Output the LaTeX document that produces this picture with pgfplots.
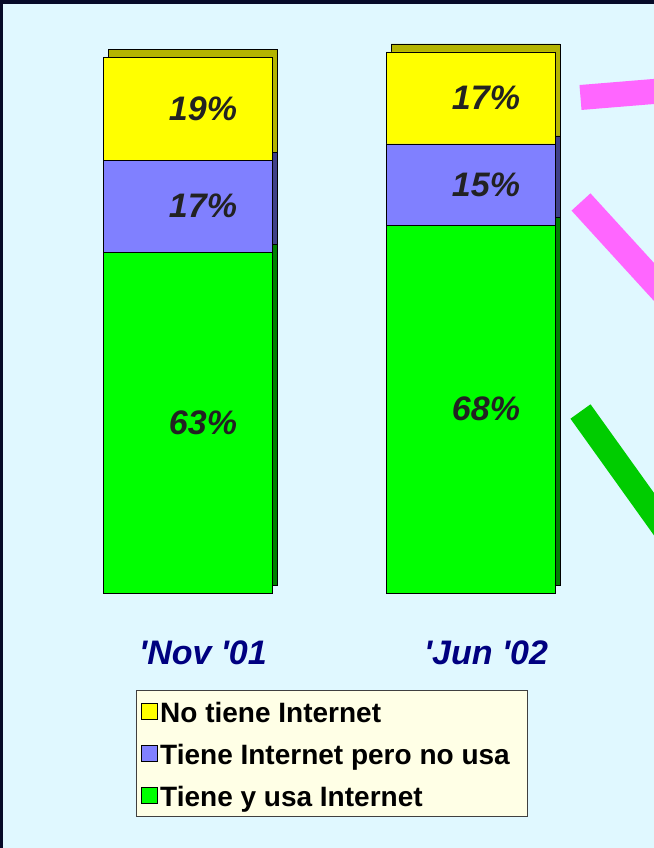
\documentclass[border=0pt]{standalone}
\usepackage{pgfplots}
\pgfplotsset{compat=1.18}
\usepackage{pgfplotstable}
\usepackage{fontspec}
\newfontfamily\arial{Liberation Sans}
\definecolor{navybg}{HTML}{060A28}
\definecolor{panel}{HTML}{E0F8FF}
\definecolor{gfront}{HTML}{00FF00}
\definecolor{gside}{HTML}{008000}
\definecolor{bfront}{HTML}{8080FF}
\definecolor{bside}{HTML}{404088}
\definecolor{yfront}{HTML}{FFFF00}
\definecolor{yside}{HTML}{B4B400}
\definecolor{pinkln}{HTML}{FF66FF}
\definecolor{greenln}{HTML}{00CC00}
\definecolor{catblue}{HTML}{000080}
\definecolor{lablack}{HTML}{222222}
\definecolor{legfill}{HTML}{FFFFE6}

\pgfplotstableread{
x green blue yellow
0 63 17 19
1 68 15 17
}\datatable

\pgfplotsset{
  barbase/.style={
    ybar stacked, bar width=169bp,
    scale only axis, width=566bp, height=541bp,
    xmin=-0.5, xmax=1.5, ymin=0, ymax=100,
    clip=false, anchor=south west,
    axis line style={draw=none}, tick style={draw=none},
  }
}

\begin{document}
\begin{tikzpicture}[x=1bp,y=1bp]
\useasboundingbox (0,0) rectangle (654,848);
\begin{scope}
\clip (0,0) rectangle (654,848);
\fill[navybg] (0,0) rectangle (654,848);
\fill[panel] (3,0) rectangle (660,844);

% depth (side/top faces)
\begin{axis}[barbase, at={(51bp,263bp)}, xtick=\empty, ytick=\empty]
\addplot[fill=gside, draw=black, line width=0.8bp] table[x=x,y=green]{\datatable};
\addplot[fill=bside, draw=black, line width=0.8bp] table[x=x,y=blue]{\datatable};
\addplot[fill=yside, draw=black, line width=0.8bp] table[x=x,y=yellow]{\datatable};
\end{axis}

% front faces
\begin{axis}[barbase, at={(46bp,255bp)},
  /pgf/number format/assume math mode=true,
  xtick=data, xticklabels={{'Nov '01},{'Jun '02}},
  xticklabel style={font=\arial\bfseries\itshape\fontsize{34bp}{36bp}\selectfont, text=catblue, anchor=center, xshift=15.5bp, yshift=-60bp},
  major tick length=0pt, ytick=\empty,
  nodes near coords={\pgfmathprintnumber{\pgfplotspointmeta}\%},
  every node near coord/.append style={font=\arial\bfseries\itshape\fontsize{34bp}{36bp}\selectfont, text=lablack, anchor=center, xshift=15.5bp},
  reverse legend,
  legend image code/.code={\draw[#1,draw=black,line width=0.8bp] (0bp,-8bp) rectangle (16bp,8bp);},
  legend style={at={(0.159,-0.1793)}, anchor=north west, fill=legfill, draw=black!75, line width=0.8bp, inner xsep=5bp, inner ysep=6bp, row sep=12bp, font=\arial\bfseries\fontsize{28bp}{30bp}\selectfont, nodes={text height=24bp, text depth=2bp, inner sep=2bp}},
  legend cell align=left,
]
\addplot[fill=gfront, draw=black, line width=0.8bp] table[x=x,y=green]{\datatable};
\addplot[fill=bfront, draw=black, line width=0.8bp] table[x=x,y=blue]{\datatable};
\addplot[fill=yfront, draw=black, line width=0.8bp] table[x=x,y=yellow]{\datatable};
\legend{Tiene y usa Internet, Tiene Internet pero no usa\kern11bp\null, No tiene Internet}
\end{axis}

% decorative strokes at the right edge of the slide
\draw[pinkln, line width=25bp] (580.5,750.5) -- (700,760.3);
\draw[pinkln, line width=25.6bp] (581,646) -- (707,508);
\draw[greenln, line width=24.7bp] (580.5,436.5) -- (706.5,260.5);
\end{scope}
\end{tikzpicture}
\end{document}
